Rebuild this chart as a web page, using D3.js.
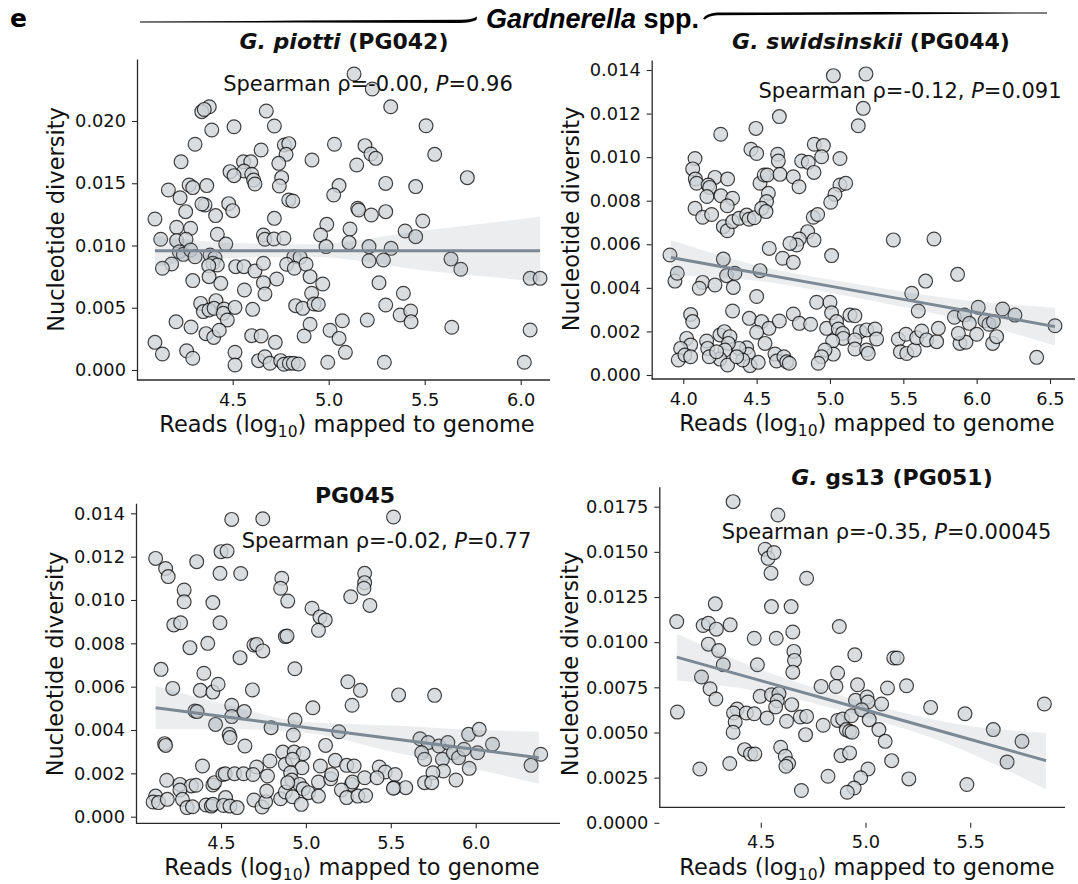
<!DOCTYPE html>
<html>
<head>
<meta charset="utf-8">
<script src="https://cdn.jsdelivr.net/npm/d3@7"></script>
<style>
  body { margin: 0; background: #fff; }
  svg { display: block; }
  text { font-family: "DejaVu Sans", sans-serif; fill: #111; }
</style>
</head>
<body>
<svg id="fig" width="1078" height="884"></svg>
<script>
// ---------- data: log10 mapped reads (x) vs nucleotide diversity (y) ----------

// G. piotti (PG042)
const pg042X = [5.132,5.227,5.323,4.378,4.339,4.352,4.675,4.391,4.507,4.717,
  5.507,4.304,4.769,4.792,4.778,4.648,5.03,5.189,5.22,5.245,
  5.552,4.231,4.556,4.594,4.559,4.486,4.507,4.599,4.609,4.616,
  4.74,4.755,4.743,4.913,5.146,5.722,4.165,4.273,4.292,4.365,
  4.226,5.297,5.054,5.026,5.453,4.356,4.34,4.479,4.5,4.792,
  4.813,4.255,4.411,5.151,5.156,5.222,5.297,4.095,4.717,5.49,
  4.208,4.281,4.99,5.111,5.398,4.42,4.125,4.208,4.257,4.66,
  4.668,4.715,4.767,4.958,5.453,5.106,4.464,4.986,5.21,5.325,
  4.222,4.243,4.281,4.304,4.382,4.408,4.396,4.42,4.375,4.182,
  4.134,4.516,4.559,4.616,4.66,4.819,4.851,4.781,4.821,4.882,
  5.21,5.285,5.637,5.688,6.049,6.101,4.903,4.729,4.377,4.292,
  4.438,4.66,4.969,4.561,4.668,5.262,4.911,5.389,4.333,4.413,
  4.347,4.377,4.403,4.455,4.451,4.512,4.472,4.604,4.828,4.865,
  4.924,4.946,5.297,5.372,5.427,5.429,4.205,4.283,4.361,4.401,
  4.43,4.903,4.872,5.071,5.201,5.641,5.007,5.054,6.049,4.599,
  4.648,4.722,4.095,4.134,4.26,4.292,4.512,4.512,4.635,4.668,
  4.694,4.75,4.767,4.795,4.816,4.842,4.995,5.087,5.29,6.019];
const pg042Y = [0.02378,0.02257,0.02115,0.02115,0.02075,0.02093,0.0208,0.01928,0.01954,0.0196,
  0.01962,0.01813,0.01807,0.01818,0.01732,0.01767,0.01813,0.01802,0.01735,0.017,
  0.01732,0.01673,0.01673,0.01673,0.01598,0.01593,0.01561,0.01572,0.01526,0.01494,
  0.0166,0.01545,0.01478,0.01687,0.01647,0.01545,0.01446,0.01486,0.01465,0.01481,
  0.01384,0.01499,0.01481,0.01406,0.01473,0.01325,0.01333,0.01336,0.0128,0.01365,
  0.01357,0.01272,0.0124,0.01299,0.01285,0.01245,0.01272,0.01213,0.01218,0.01197,
  0.01146,0.01138,0.0117,0.01133,0.01116,0.0109,0.0105,0.01039,0.0105,0.01084,
  0.0105,0.01052,0.01058,0.01084,0.01071,0.01023,0.01012,0.00991,0.00991,0.00977,
  0.0095,0.00929,0.00964,0.0091,0.00924,0.00902,0.00857,0.00843,0.00838,0.00851,
  0.00817,0.0083,0.0083,0.00795,0.00857,0.0091,0.00905,0.00849,0.00817,0.00849,
  0.00878,0.00884,0.00892,0.00809,0.00736,0.00736,0.0075,0.00731,0.0075,0.00718,
  0.00696,0.00701,0.00691,0.00643,0.0061,0.00701,0.00616,0.00616,0.00535,0.00557,
  0.00469,0.00482,0.00495,0.0049,0.00455,0.00503,0.00402,0.00487,0.00517,0.00495,
  0.0053,0.00527,0.00522,0.00442,0.00474,0.00388,0.00388,0.00345,0.00292,0.00262,
  0.00319,0.00367,0.00273,0.00396,0.00402,0.00343,0.00319,0.00254,0.00321,0.00276,
  0.00273,0.00222,0.00222,0.00129,0.00155,0.00094,0.00142,0.0004,0.00075,0.00107,
  0.00054,0.00075,0.00046,0.00054,0.00054,0.00048,0.00062,0.00142,0.00062,0.00062];
const pg042FitX = [4.095, 4.5, 4.9, 5.5, 6.101];
const pg042FitY = [0.00957, 0.00957, 0.00957, 0.00957, 0.00957];
const pg042Lo   = [0.0083, 0.0090, 0.0091, 0.0080, 0.0071];
const pg042Hi   = [0.0108, 0.0102, 0.0101, 0.0112, 0.0123];

// G. swidsinskii (PG044)
const pg044X = [5.023,5.245,5.227,5.193,4.655,4.495,4.255,4.08,4.064,4.082,
  4.091,4.216,4.302,4.17,4.18,4.161,4.257,4.336,4.3,4.08,
  4.132,4.193,4.273,4.3,4.336,4.38,4.432,4.448,4.484,4.461,
  4.5,4.643,4.648,4.523,4.552,4.573,4.58,4.568,4.534,4.564,
  4.659,4.75,4.789,4.807,4.852,4.891,4.893,4.955,4.943,5.068,
  5.068,5.107,5.034,5.005,4.886,4.916,4.848,4.891,4.791,4.773,
  4.727,4.586,4.677,4.75,5.011,5.432,5.709,3.909,3.943,3.959,
  4.273,4.523,4.295,4.352,4.132,4.109,4.216,4.341,4.5,5.557,
  5.652,5.87,5.602,4.909,5.0,4.336,4.05,4.064,4.75,5.011,
  5.136,5.17,6.011,6.177,6.261,5.848,5.916,5.95,6.057,6.084,
  6.114,6.534,6.409,4.45,4.534,4.584,4.655,4.791,4.868,4.977,
  5.045,5.057,5.086,5.091,5.205,5.25,5.307,5.318,5.17,5.17,
  5.25,5.261,5.018,5.023,4.966,4.943,4.92,4.5,4.557,4.432,
  4.443,4.455,4.511,4.38,4.405,4.25,4.28,4.318,4.307,4.284,
  4.25,4.302,4.364,4.159,4.166,4.177,4.227,4.023,4.05,3.982,
  3.966,4.011,4.05,4.625,4.636,4.686,4.705,4.723,5.466,5.48,
  5.523,5.518,5.575,5.591,5.625,5.659,5.727,5.739,5.886,5.927,
  6.0,6.109,5.875,6.136];
const pg044Y = [0.01374,0.01382,0.01224,0.01144,0.01186,0.01132,0.01105,0.00994,0.00946,0.009,
  0.0088,0.00907,0.009,0.00872,0.00861,0.00819,0.00823,0.00811,0.00777,0.00765,
  0.00724,0.00737,0.00681,0.00662,0.00704,0.00719,0.00734,0.00715,0.00722,0.01036,
  0.01017,0.01013,0.00982,0.0088,0.00918,0.00918,0.00834,0.00796,0.00765,0.0075,
  0.00921,0.0091,0.00864,0.00982,0.00976,0.0093,0.01059,0.01053,0.01002,0.00994,
  0.00872,0.0088,0.00829,0.00793,0.00724,0.00737,0.00658,0.0062,0.00624,0.00597,
  0.00604,0.00581,0.00536,0.00517,0.00548,0.0062,0.00624,0.00551,0.00431,0.00467,
  0.00532,0.00479,0.00456,0.00467,0.00425,0.00398,0.00413,0.00402,0.0036,0.00375,
  0.00431,0.00462,0.00294,0.00334,0.00334,0.00294,0.00278,0.00245,0.0028,0.00286,
  0.00275,0.00272,0.00311,0.00303,0.00275,0.00265,0.00275,0.00237,0.00249,0.00233,
  0.00245,0.00226,0.00081,0.0026,0.00245,0.00214,0.00248,0.00237,0.00233,0.00214,
  0.00245,0.00211,0.00191,0.00168,0.00199,0.00207,0.00211,0.00165,0.00161,0.00119,
  0.00115,0.00099,0.00156,0.00096,0.00115,0.00084,0.00054,0.00196,0.00145,0.00125,
  0.00095,0.00043,0.00058,0.00122,0.00069,0.00184,0.00199,0.00176,0.00145,0.00115,
  0.00073,0.00046,0.00084,0.00156,0.00122,0.00084,0.00107,0.00168,0.00138,0.00122,
  0.00069,0.00092,0.00084,0.00096,0.00064,0.00084,0.00061,0.00054,0.00164,0.00107,
  0.00099,0.00187,0.00115,0.00171,0.00202,0.00161,0.00153,0.00214,0.00145,0.0015,
  0.00187,0.00145,0.00191,0.00176];
const pg044FitX = [3.916, 4.5, 5.0, 5.5, 6.0, 6.534];
const pg044FitY = [0.00539, 0.00468, 0.00408, 0.00347, 0.00287, 0.00222];
const pg044Lo   = [0.00459, 0.00433, 0.00378, 0.00312, 0.00237, 0.00135];
const pg044Hi   = [0.0062, 0.00503, 0.00438, 0.00382, 0.00337, 0.00309];

// PG045
const pg045X = [4.563,4.746,5.516,4.115,4.357,4.5,4.536,4.174,4.189,4.494,
  4.616,4.858,4.851,4.893,4.283,4.283,4.452,5.264,5.346,5.346,
  5.342,5.377,5.036,5.083,5.114,5.074,4.879,4.889,4.222,4.262,
  4.494,4.317,4.422,4.694,4.71,4.746,4.612,4.935,4.147,4.399,
  4.216,4.378,4.452,4.483,4.685,5.247,5.321,5.272,5.546,5.758,
  4.346,4.359,4.563,4.563,4.637,5.041,4.468,4.795,4.936,4.926,
  5.194,4.548,4.553,4.168,4.174,4.641,5.116,5.672,5.72,5.783,
  5.836,5.958,6.021,6.099,5.682,5.699,5.804,5.868,5.899,5.931,
  6.011,6.383,6.326,5.962,5.81,5.748,5.699,5.741,5.884,4.391,
  4.864,4.931,4.984,4.788,4.71,4.879,4.921,4.977,5.085,5.173,
  5.24,5.284,5.432,5.467,5.526,4.18,4.258,4.325,4.353,4.452,
  4.462,4.511,4.525,4.58,4.633,4.689,4.774,4.91,4.917,4.963,
  4.984,5.074,5.146,5.152,5.268,5.274,5.346,5.419,5.52,5.588,
  4.115,4.1,4.132,4.184,4.258,4.273,4.3,4.332,4.412,4.443,
  4.452,4.527,4.515,4.553,4.595,4.694,4.742,4.763,4.769,4.851,
  4.879,4.921,4.973,5.015,5.074,5.209,5.24,5.306,5.352,5.515,
  4.893];
const pg045Y = [0.01372,0.01375,0.01383,0.01192,0.01177,0.01223,0.01226,0.01145,0.01108,0.01123,
  0.01122,0.011,0.01054,0.00995,0.01046,0.00992,0.00988,0.01015,0.01123,0.0108,
  0.01054,0.00975,0.00962,0.00922,0.00908,0.0086,0.00831,0.00834,0.00885,0.00895,
  0.00895,0.0078,0.008,0.00792,0.00795,0.00765,0.00734,0.00683,0.0068,0.00662,
  0.00592,0.00583,0.00575,0.00611,0.00585,0.00623,0.00583,0.00514,0.00562,0.0056,
  0.00488,0.00485,0.00514,0.00462,0.00485,0.00503,0.00426,0.00411,0.00446,0.00377,
  0.00392,0.0038,0.00365,0.00337,0.00329,0.00326,0.00329,0.0036,0.00342,0.00326,
  0.00342,0.0038,0.00403,0.00334,0.00295,0.00265,0.00265,0.00295,0.00272,0.00311,
  0.00295,0.00288,0.00237,0.00223,0.00211,0.00203,0.00157,0.00157,0.00169,0.00234,
  0.00298,0.00298,0.00291,0.00257,0.00229,0.00242,0.00265,0.00226,0.00234,0.0026,
  0.00237,0.00234,0.00229,0.00206,0.00195,0.00168,0.00149,0.00142,0.00145,0.00146,
  0.00157,0.00195,0.00198,0.00198,0.00198,0.00195,0.00188,0.00203,0.00169,0.00149,
  0.00129,0.0016,0.00175,0.00195,0.00149,0.0016,0.0018,0.0018,0.00134,0.00134,
  0.00095,0.00068,0.00065,0.0008,0.00123,0.0008,0.00042,0.00046,0.00054,0.00049,
  0.00057,0.00088,0.00052,0.00049,0.00042,0.00077,0.00045,0.00069,0.00118,0.00083,
  0.00114,0.00092,0.00057,0.00111,0.00095,0.00123,0.00088,0.00095,0.00098,0.00131,
  0.00157];
const pg045FitX = [4.115, 4.5, 5.0, 5.5, 6.0, 6.372];
const pg045FitY = [0.00503, 0.00464, 0.00412, 0.00361, 0.0031, 0.00272];
const pg045Lo   = [0.00403, 0.00405, 0.00387, 0.00301, 0.0022, 0.00152];
const pg045Hi   = [0.00603, 0.00523, 0.00437, 0.00421, 0.004, 0.00392];

// G. gs13 (PG051)
const pg051X = [4.368,4.582,4.521,4.535,4.563,4.549,4.719,4.283,4.551,4.645,
  4.099,4.225,4.25,4.288,4.354,4.875,4.653,4.469,4.574,4.25,
  4.299,4.658,4.661,4.949,5.135,5.151,4.321,4.484,4.653,4.867,
  4.217,4.258,4.286,4.497,4.551,4.587,4.579,4.571,4.648,4.788,
  4.859,4.962,5.105,5.196,4.102,4.387,4.37,4.431,4.469,4.378,
  4.368,4.53,4.623,4.689,4.719,4.798,4.867,4.891,4.952,5.007,
  5.012,4.933,4.982,5.018,5.064,5.077,5.094,5.311,5.475,5.854,
  5.61,5.747,5.676,4.714,4.908,4.924,4.936,4.423,4.451,4.472,
  4.352,4.595,4.617,4.633,4.62,4.883,4.924,5.125,4.209,4.821,
  5.012,4.977,4.946,4.913,4.694,5.207,5.484];
const pg051Y = [0.01778,0.01704,0.01514,0.01464,0.01496,0.01382,0.01354,0.01212,0.01197,0.01197,
  0.01114,0.01092,0.01105,0.01072,0.01096,0.01087,0.01056,0.01022,0.01022,0.00989,
  0.00954,0.00949,0.00899,0.0093,0.00912,0.00912,0.00875,0.00875,0.00834,0.00829,
  0.00807,0.00742,0.00685,0.007,0.00709,0.00715,0.00676,0.00641,0.00654,0.00755,
  0.00755,0.00764,0.00746,0.00759,0.00613,0.0063,0.00608,0.00608,0.00604,0.00558,
  0.00501,0.0058,0.00562,0.00586,0.00589,0.0054,0.00567,0.00575,0.00678,0.00696,
  0.00669,0.00593,0.00626,0.00571,0.00516,0.00658,0.00451,0.00639,0.00604,0.00658,
  0.00516,0.00451,0.00337,0.00488,0.00516,0.00507,0.00501,0.00405,0.00381,0.00381,
  0.00328,0.00418,0.00368,0.00328,0.00313,0.00372,0.00387,0.00344,0.00298,0.00258,
  0.00298,0.00249,0.00193,0.00169,0.00179,0.00243,0.00212];
const pg051FitX = [4.099, 4.5, 4.95, 5.4, 5.862];
const pg051FitY = [0.00917, 0.00787, 0.00641, 0.00494, 0.00344];
const pg051Lo   = [0.00788, 0.00727, 0.00601, 0.00434, 0.00184];
const pg051Hi   = [0.01046, 0.00847, 0.00681, 0.00554, 0.00497];

// titles (text, italic), Spearman statistics and tick values
const panelTitles = [
  [["G. piotti", true], [" (PG042)", false]],
  [["G. swidsinskii", true], [" (PG044)", false]],
  [["PG045", false]],
  [["G.", true], [" gs13 (PG051)", false]]
];
const rhoValues = ["-0.00", "-0.12", "-0.02", "-0.35"];
const pValues = ["0.96", "0.091", "0.77", "0.00045"];
const xTicksA = [4.5, 5.0, 5.5, 6.0];
const xTicksB = [4.0, 4.5, 5.0, 5.5, 6.0, 6.5];
const xTicksC = [4.5, 5.0, 5.5];
const yTicksA = [0, 0.005, 0.010, 0.015, 0.020];
const yTicksB = [0, 0.002, 0.004, 0.006, 0.008, 0.010, 0.012, 0.014];
const yTicksC = [0, 0.0025, 0.005, 0.0075, 0.010, 0.0125, 0.015, 0.0175];

// ---------- panel layout ----------
const panels = [
  { xs: pg042X, ys: pg042Y, fitX: pg042FitX, fitY: pg042FitY, lo: pg042Lo, hi: pg042Hi,
    xTicks: xTicksA, yTicks: yTicksA, yFmt: ".3f",
    xDomain: [4.0016, 6.1526], xRange: [137, 550], yDomain: [-0.000803, 0.02498], yRange: [380, 59],
    spineY: 380, tickY: 380, titleX: 344, titleY: 49, statX: 368, statY: 91,
    xLabelX: 347, yLabelX: 64, yLabelY: 219.5 },
  { xs: pg044X, ys: pg044Y, fitX: pg044FitX, fitY: pg044FitY, lo: pg044Lo, hi: pg044Hi,
    xTicks: xTicksB, yTicks: yTicksB, yFmt: ".3f",
    xDomain: [3.7846, 6.6704], xRange: [651.7, 1075], yDomain: [-0.000184, 0.014459], yRange: [379, 60],
    spineY: 379, tickY: 379, titleX: 871, titleY: 49, statX: 910, statY: 97.5,
    xLabelX: 867, yLabelX: 579, yLabelY: 219 },
  { xs: pg045X, ys: pg045Y, fitX: pg045FitX, fitY: pg045FitY, lo: pg045Lo, hi: pg045Hi,
    xTicks: xTicksA, yTicks: yTicksB, yFmt: ".3f",
    xDomain: [3.9994, 6.4965], xRange: [136, 560], yDomain: [-0.000305, 0.014462], yRange: [823.3, 503.3],
    spineY: 823.3, tickY: 823.3, titleX: 355, titleY: 503, statX: 386.5, statY: 548,
    xLabelX: 352, yLabelX: 63.3, yLabelY: 664 },
  { xs: pg051X, ys: pg051Y, fitX: pg051FitX, fitY: pg051FitY, lo: pg051Lo, hi: pg051Hi,
    xTicks: xTicksC, yTicks: yTicksC, yFmt: ".4f",
    xDomain: [4.0157, 5.9524], xRange: [659.3, 1065], yDomain: [0.000858, 0.018607], yRange: [807.3, 486.7],
    spineY: 807.3, tickY: 822.8, titleX: 892, titleY: 485, statX: 886.5, statY: 538.5,
    xLabelX: 867, yLabelX: 578, yLabelY: 664 }
];

const svg = d3.select("#fig");
const fitColor = "#7c8894";
const axisColor = "#2a2a2a";

panels.forEach((p, k) => {
  const x = d3.scaleLinear().domain(p.xDomain).range(p.xRange);
  const y = d3.scaleLinear().domain(p.yDomain).range(p.yRange);
  const g = svg.append("g").attr("class", "panel");

  // scatter
  g.append("g").selectAll("circle")
    .data(d3.range(p.xs.length))
    .join("circle")
    .attr("cx", i => x(p.xs[i]))
    .attr("cy", i => y(p.ys[i]))
    .attr("r", 6.9)
    .attr("fill", "#d0d5d9")
    .attr("stroke", "#111")
    .attr("stroke-width", 1.2)
    .attr("opacity", 0.8);

  // confidence band and fitted line
  const idx = d3.range(p.fitX.length);
  const band = d3.area()
    .x(i => x(p.fitX[i])).y0(i => y(p.lo[i])).y1(i => y(p.hi[i]))
    .curve(d3.curveMonotoneX);
  g.append("path").attr("d", band(idx))
    .attr("fill", fitColor).attr("fill-opacity", 0.15);
  const line = d3.line().x(i => x(p.fitX[i])).y(i => y(p.fitY[i]));
  g.append("path").attr("d", line(idx))
    .attr("fill", "none").attr("stroke", fitColor).attr("stroke-width", 3);

  // y axis
  const ya = g.append("g").attr("transform", `translate(${p.xRange[0]},0)`)
    .call(d3.axisLeft(y).tickValues(p.yTicks).tickFormat(d3.format(p.yFmt))
      .tickSize(5).tickSizeOuter(0).tickPadding(6));
  // x axis (tick row can sit below the spine)
  const xa = g.append("g").attr("transform", `translate(0,${p.tickY})`)
    .call(d3.axisBottom(x).tickValues(p.xTicks).tickFormat(d3.format(".1f"))
      .tickSize(5).tickSizeOuter(0).tickPadding(8));
  xa.select(".domain").remove();
  g.append("line")
    .attr("x1", p.xRange[0]).attr("x2", p.xRange[1])
    .attr("y1", p.spineY).attr("y2", p.spineY)
    .attr("stroke", axisColor).attr("stroke-width", 1.3);

  [ya, xa].forEach(a => {
    a.selectAll(".domain").attr("stroke", axisColor).attr("stroke-width", 1.3);
    a.selectAll(".tick line").attr("stroke", axisColor).attr("stroke-width", 1.1);
    a.selectAll(".tick text")
      .attr("font-family", "DejaVu Sans, sans-serif")
      .attr("font-size", 17.8).attr("fill", "#111");
  });

  // axis labels
  const xl = g.append("text")
    .attr("x", p.xLabelX).attr("y", p.tickY + 52)
    .attr("text-anchor", "middle").attr("font-size", 22.5);
  xl.append("tspan").text("Reads (log");
  xl.append("tspan").attr("font-size", 15.5).attr("dy", 5).text("10");
  xl.append("tspan").attr("dy", -5).text(") mapped to genome");

  g.append("text")
    .attr("transform", `translate(${p.yLabelX},${p.yLabelY}) rotate(-90)`)
    .attr("text-anchor", "middle").attr("font-size", 22.5)
    .text("Nucleotide diversity");

  // panel title
  const t = g.append("text")
    .attr("x", p.titleX).attr("y", p.titleY)
    .attr("text-anchor", "middle").attr("font-size", 22).attr("font-weight", "bold");
  panelTitles[k].forEach(([s, it]) => {
    t.append("tspan").attr("font-style", it ? "italic" : "normal").text(s);
  });

  // Spearman annotation
  const st = g.append("text")
    .attr("x", p.statX).attr("y", p.statY)
    .attr("text-anchor", "middle").attr("font-size", 21);
  st.append("tspan").text(`Spearman ρ=${rhoValues[k]}, `);
  st.append("tspan").attr("font-style", "italic").text("P");
  st.append("tspan").text(`=${pValues[k]}`);
});

// ---------- figure header ----------
svg.append("text")
  .attr("x", 10).attr("y", 27)
  .attr("font-family", "Liberation Sans, Arial, sans-serif")
  .attr("font-size", 25).attr("font-weight", "bold")
  .style("fill", "#000")
  .text("e");

const head = svg.append("text")
  .attr("x", 592.5).attr("y", 28)
  .attr("text-anchor", "middle")
  .attr("font-size", 27).attr("font-weight", "bold")
  .style("font-family", "Liberation Sans, Arial, sans-serif")
  .style("fill", "#000");
head.append("tspan").attr("font-style", "italic").text("Gardnerella");
head.append("tspan").text(" spp.");

// bracket strokes either side of the genus label
svg.append("path")
  .attr("d", "M140,21.6 L300,20.6 L462,19.8 Q472,19.6 477,16.4 L476.5,20.0 Q470,22.9 460,23.0 L300,22.6 L140,22.4 Z")
  .attr("fill", "#000");
svg.append("path")
  .attr("d", "M703,18.8 Q706,13.6 717,12.6 L880,12.0 L1047,12.6 L1047,13.4 L880,14.6 L717,15.2 Q709,15.6 705,19.4 Z")
  .attr("fill", "#000");
</script>
</body>
</html>
